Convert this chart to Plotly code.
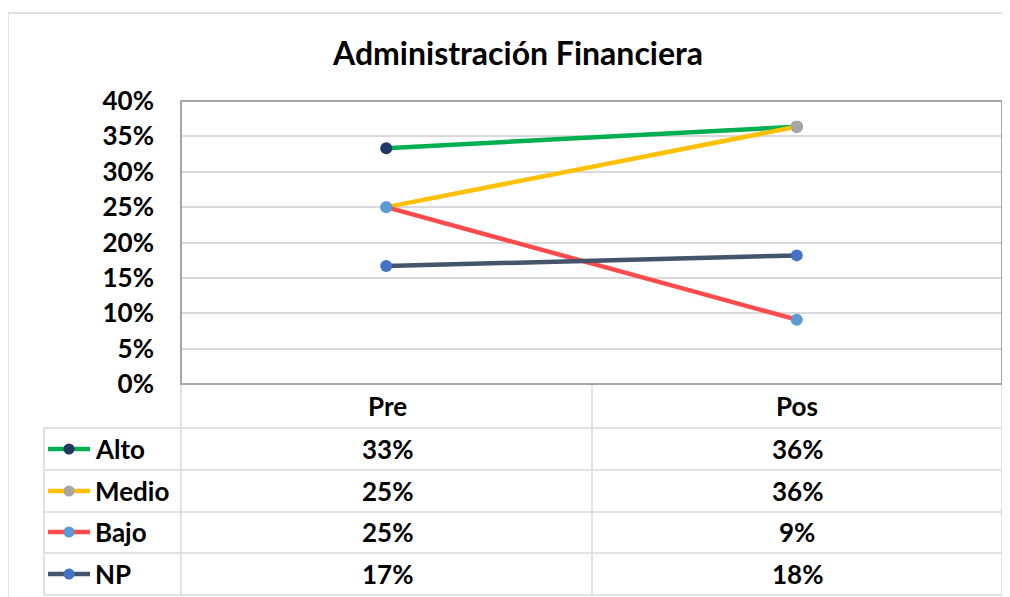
import plotly.graph_objects as go

categories = ["Pre", "Pos"]
series_names = ["Alto", "Medio", "Bajo", "NP"]
alto = [0.3333, 0.3636]
medio = [0.25, 0.3636]
bajo = [0.25, 0.0909]
np_vals = [0.1667, 0.1818]
tick_vals = [0, 0.05, 0.10, 0.15, 0.20, 0.25, 0.30, 0.35, 0.40]
tick_text = ["0%", "5%", "10%", "15%", "20%", "25%", "30%", "35%", "40%"]

values = [alto, medio, bajo, np_vals]
line_colors = ["#00b050", "#ffc000", "#ff4b4b", "#44546a"]
marker_colors = ["#1f3864", "#a5a5a5", "#5b9bd5", "#4472c4"]

OFF = 8  # page body margin
W, H = 1010 - OFF, 597 - OFF
# target screen coordinates
L, R, T, B = 181, 1002, 101, 384
FONT = "Lato"
TS = 26

def px(x):
    return (x - L) / (R - L)

def py(y):
    return (B - y) / (B - T)

fig = go.Figure()
for name, vals, lc, mc in zip(series_names, values, line_colors, marker_colors):
    fig.add_trace(go.Scatter(
        x=categories, y=vals, mode="lines+markers", name=name,
        line=dict(color=lc, width=4.5),
        marker=dict(color=mc, size=12),
        showlegend=False,
    ))

shapes = []
annotations = []
grid = "#d9d9d9"
shapes.append(dict(type="rect", xref="paper", yref="paper",
                   x0=px(8), x1=px(1015), y0=py(13), y1=py(605),
                   line=dict(color=grid, width=1.5)))
row_y = [428, 470, 512, 553, 595]
for y in row_y:
    shapes.append(dict(type="line", xref="paper", yref="paper",
                       x0=px(44), x1=px(R), y0=py(y), y1=py(y),
                       line=dict(color=grid, width=1.5)))
for x in [L, 592, R]:
    shapes.append(dict(type="line", xref="paper", yref="paper",
                       x0=px(x), x1=px(x), y0=py(B), y1=py(595),
                       line=dict(color=grid, width=1.5)))
shapes.append(dict(type="line", xref="paper", yref="paper",
                   x0=px(44), x1=px(44), y0=py(428), y1=py(595),
                   line=dict(color=grid, width=1.5)))
shapes.append(dict(type="rect", xref="paper", yref="paper",
                   x0=0, x1=1, y0=0, y1=1,
                   line=dict(color="#a6a6a6", width=2)))

def txt(x, y, s, size=TS, xanchor="center"):
    return dict(xref="paper", yref="paper", x=px(x), y=py(y),
                xanchor=xanchor, yanchor="middle",
                text="<b>%s</b>" % s, showarrow=False,
                font=dict(family=FONT, size=size, color="black"))

col_x = [387, 797]
header_y = 406
row_centers = [449, 491, 532, 574]
for cx, cat in zip(col_x, categories):
    annotations.append(txt(cx, header_y, cat))
for i, (name, vals, lc, mc) in enumerate(zip(series_names, values, line_colors, marker_colors)):
    yc = row_centers[i]
    shapes.append(dict(type="line", xref="paper", yref="paper",
                       x0=px(48), x1=px(90), y0=py(yc), y1=py(yc),
                       line=dict(color=lc, width=4.5)))
    shapes.append(dict(type="circle", xref="paper", yref="paper",
                       x0=px(63.5), x1=px(74.5), y0=py(yc - 5.5), y1=py(yc + 5.5),
                       fillcolor=mc, line=dict(color=mc, width=0)))
    annotations.append(txt(93, yc, name, xanchor="left"))
    for cx, v in zip(col_x, vals):
        annotations.append(txt(cx, yc, "%d%%" % round(v * 100)))

annotations.append(txt(517, 52, "Administración Financiera", size=32))

fig.update_layout(
    width=W, height=H,
    margin=dict(l=L - OFF, r=W - (R - OFF), t=T - OFF, b=H - (B - OFF), pad=0),
    paper_bgcolor="white", plot_bgcolor="white",
    shapes=shapes, annotations=annotations,
    xaxis=dict(range=[-0.5, 1.5], showticklabels=False, showgrid=False,
               zeroline=False, showline=False, fixedrange=True),
    yaxis=dict(range=[0, 0.40], tickvals=tick_vals, ticktext=tick_text,
               showgrid=True, gridcolor=grid, gridwidth=1.5, zeroline=False,
               showline=False, ticks="", ticklabelstandoff=26,
               tickfont=dict(family=FONT, size=TS, color="black", weight="bold")),
)

fig.write_html("out.html")
